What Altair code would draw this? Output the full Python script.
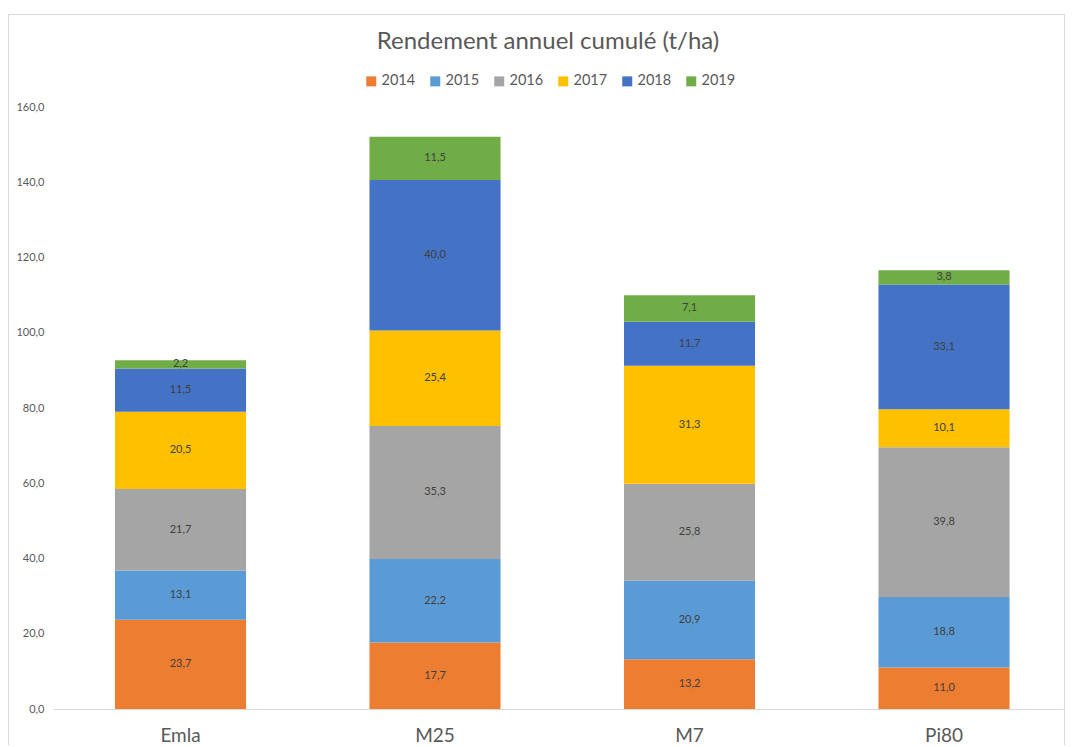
import altair as alt
import pandas as pd

categories = ["Emla", "M25", "M7", "Pi80"]
years = ["2014", "2015", "2016", "2017", "2018", "2019"]
v2014 = [23.7, 17.7, 13.2, 11.0]
v2015 = [13.1, 22.2, 20.9, 18.8]
v2016 = [21.7, 35.3, 25.8, 39.8]
v2017 = [20.5, 25.4, 31.3, 10.1]
v2018 = [11.5, 40.0, 11.7, 33.1]
v2019 = [2.2, 11.5, 7.1, 3.8]
colors = ["#ED7D31", "#5B9BD5", "#A5A5A5", "#FFC000", "#4472C4", "#70AD47"]

series = [v2014, v2015, v2016, v2017, v2018, v2019]
rows = []
for yi, (yr, vals) in enumerate(zip(years, series)):
    for c, v in zip(categories, vals):
        rows.append({"Porte-greffe": c, "Année": yr, "ordre": yi, "Valeur": v})
df = pd.DataFrame(rows)

FONT = "Lato"
GREY = "#595959"

W, H = 1010, 602

base = alt.Chart(df)

x_scale = alt.Scale(paddingInner=0.485, paddingOuter=0.2268, align=0.537)

x_enc = alt.X(
    "Porte-greffe:N",
    sort=categories,
    title=None,
    scale=x_scale,
    axis=alt.Axis(
        labelAngle=0, labelFontSize=19, labelColor=GREY, labelFont=FONT,
        ticks=False, domainColor="#D9D9D9", domainWidth=1, labelPadding=17,
        grid=False,
    ),
)

bars = base.mark_bar().encode(
    x=x_enc,
    y=alt.Y(
        "Valeur:Q",
        stack="zero",
        title=None,
        scale=alt.Scale(domain=[0, 160], nice=False),
        axis=alt.Axis(
            values=list(range(0, 161, 20)),
            labelExpr="replace(format(datum.value, '.1f'), '.', ',')",
            labelFontSize=11, labelColor=GREY, labelFont=FONT,
            ticks=False, domain=False, grid=False, labelPadding=9,
        ),
    ),
    color=alt.Color(
        "Année:N",
        scale=alt.Scale(domain=years, range=colors),
        legend=alt.Legend(
            title=None, orient="none", direction="horizontal",
            legendX=311, legendY=-33,
            symbolType="square", symbolSize=100, symbolStrokeWidth=0,
            labelFontSize=14.5, labelColor=GREY, labelFont=FONT,
            columnPadding=12, symbolOffset=0, labelOffset=3,
        ),
    ),
    order=alt.Order("ordre:Q", sort="ascending"),
)

labels = base.transform_stack(
    stack="Valeur",
    as_=["v0", "v1"],
    groupby=["Porte-greffe"],
    sort=[alt.SortField("ordre", order="ascending")],
).transform_calculate(
    mid="(datum.v0 + datum.v1) / 2",
    lab="replace(format(datum.Valeur, '.1f'), '.', ',')",
).mark_text(fontSize=11, color="#404040", font=FONT, baseline="middle").encode(
    x=alt.X("Porte-greffe:N", sort=categories, scale=x_scale),
    y=alt.Y("mid:Q"),
    text="lab:N",
)

border = base.mark_rect(fill=None, stroke="#D9D9D9", strokeWidth=1).encode(
    x=alt.value(-44.5), x2=alt.value(W + 1.5),
    y=alt.value(-92.5), y2=alt.value(H + 45),
)

chart = alt.layer(border, bars, labels).properties(
    width=W,
    height=H,
    title=alt.TitleParams(
        "Rendement annuel cumulé (t/ha)",
        fontSize=24, fontWeight="normal", color=GREY, font=FONT,
        anchor="middle", offset=-58.5, baseline="alphabetic", dx=-10,
    ),
    autosize=alt.AutoSizeParams(type="none"),
    padding={"left": 45, "top": 99, "right": 2, "bottom": 36},
).configure_view(stroke=None)

chart.save("out.html", embed_options={"renderer": "svg", "actions": False})
